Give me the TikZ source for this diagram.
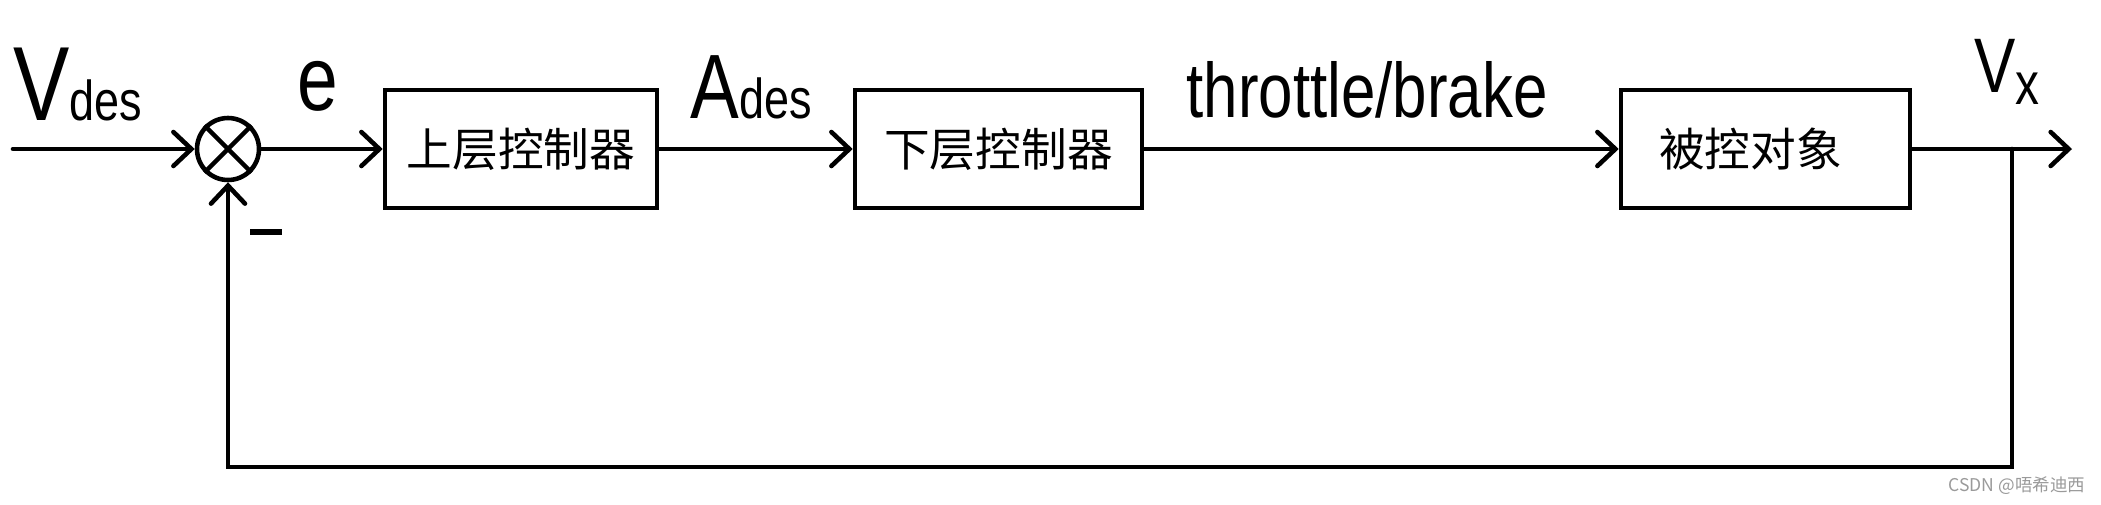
\documentclass[tikz,border=0pt]{standalone}
\usepackage{fontspec}
\setmainfont{Liberation Sans}
\newfontfamily\cjkfont{Noto Sans CJK SC}
\newfontfamily\handfont[FakeStretch=0.8]{Liberation Sans}
\usetikzlibrary{arrows.meta,positioning,calc}
\definecolor{wmgray}{HTML}{9A9A9A}

\begin{document}
\begin{tikzpicture}[
  >={Straight Barb[length=1.8mm,width=3.4mm,line cap=round]},
  line width=1.3pt,
  block/.style={
    draw,
    minimum height=11.8mm,
    inner sep=0pt,
    font=\cjkfont\fontsize{13}{15}\selectfont
  },
  summer/.style={draw,circle,minimum size=6.2mm,inner sep=0pt},
  signal/.style={->,line cap=round},
  hand/.style={font=\handfont,inner sep=0pt},
  watermark/.style={font=\cjkfont\fontsize{5}{6}\selectfont,text=wmgray,inner sep=0pt}
]
\useasboundingbox (0,0) rectangle (21.01,5.04);

\node[summer] (sum) at (2.28,3.55) {};
\node[block,minimum width=27.2mm] (upper) at (5.21,3.55) {上层控制器};
\node[block,minimum width=28.7mm] (lower) at (9.985,3.55) {下层控制器};
\node[block,minimum width=28.9mm] (plant) at (17.655,3.55) {被控对象\hspace*{3mm}};

\coordinate (in) at (0.13,3.55);
\coordinate (out) at (20.72,3.55);
\coordinate (tap) at (20.12,3.55);
\coordinate (base) at (20.12,0.37);

% labels
\node[hand] (vdes) at (0.78,4.2) {\fontsize{30}{30}\selectfont V\fontsize{16}{16}\selectfont des};
\node[hand] (err) at (3.18,4.18) {\fontsize{26}{26}\selectfont e};
\node[hand] (ades) at (7.51,4.17) {\fontsize{26}{26}\selectfont A\fontsize{16}{16}\selectfont des};
\node[hand] (act) at (13.67,4.14) {\fontsize{22}{22}\selectfont throttle/brake};
\node[hand] (vx) at (20.07,4.32) {\fontsize{22}{22}\selectfont V\raisebox{-1.2mm}{\fontsize{17}{17}\selectfont x}};
\node[hand] (minus) at (2.66,2.72) {\rule{3.2mm}{1.5pt}};
\node[watermark] (csdn) at (20.17,0.18) {CSDN @唔希迪西};

\draw (sum.north east) -- (sum.south west)
      (sum.north west) -- (sum.south east);

\draw[signal] (in) -- (sum.west);
\draw[signal] (sum.east) -- (upper.west);
\draw[signal] (upper.east) -- (lower.west);
\draw[signal] (lower.east) -- (plant.west);
\draw[signal] (plant.east) -- (out);
\draw[signal] (tap) -- (base) -| (sum.south);
\end{tikzpicture}
\end{document}
